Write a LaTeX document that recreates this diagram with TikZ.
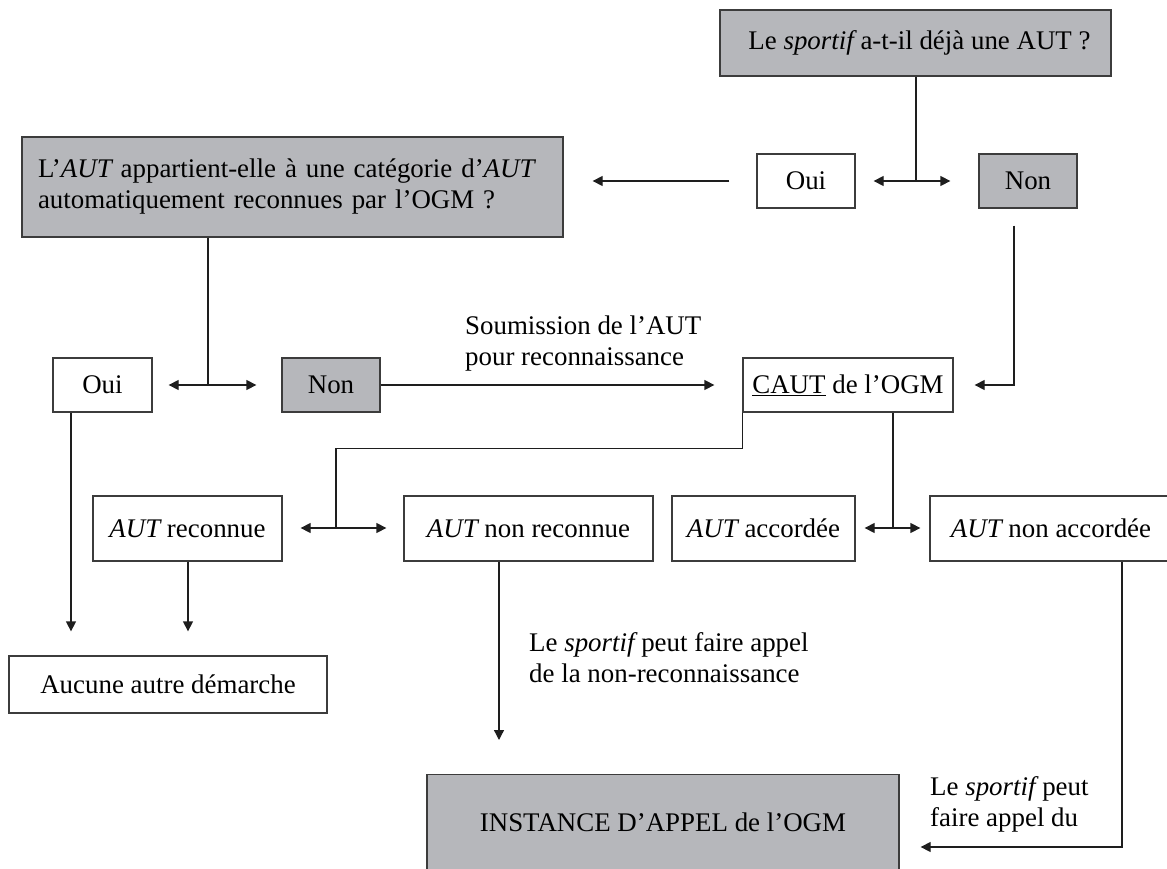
\documentclass[tikz,border=0pt]{standalone}
\usepackage{fontspec}
\setmainfont{Liberation Serif}
\usetikzlibrary{arrows.meta,calc}
\definecolor{boxgray}{RGB}{182,183,187}
\definecolor{edgec}{RGB}{60,60,60}
\definecolor{linec}{RGB}{30,30,30}
\tikzset{
  basebox/.style={draw=edgec, line width=1.3pt, inner sep=0pt, align=center,
    font=\fontsize{26.9}{31}\selectfont},
  graybox/.style={basebox, fill=boxgray},
  whitebox/.style={basebox, fill=white},
  conn/.style={draw=linec, line width=1.3pt},
  arr/.style={conn, -{Triangle[length=10pt,width=10pt]}},
  lbl/.style={inner sep=0pt, align=left, anchor=west, font=\fontsize{26.9}{31}\selectfont},
}
\begin{document}
\begin{tikzpicture}[x=1pt,y=-1pt]
\useasboundingbox (0,0) rectangle (1167,869);

% nodes
\node[graybox, minimum width=391pt, minimum height=66pt] (T) at (915.5,43) {\hspace*{8pt}Le {\itshape sportif} a-t-il déjà une AUT ?};
\node[whitebox, minimum width=98pt, minimum height=54pt] (O1) at (806,181) {Oui};
\node[graybox, minimum width=98pt, minimum height=54pt] (N1) at (1028,181) {Non};
\node[graybox, minimum height=100pt, text width=509pt, inner xsep=16pt, align=left] (L) at (292.5,187)
  {L’{\itshape AUT} appartient-elle à une catégorie d’{\itshape AUT}\\automatiquement reconnues par l’OGM ?};
\node[whitebox, minimum width=99pt, minimum height=54pt] (O2) at (102.5,385) {Oui};
\node[graybox, minimum width=98pt, minimum height=54pt] (N2) at (331,385) {Non};
\node[whitebox, minimum width=210pt, minimum height=54pt] (C) at (848,385) {\underline{CAUT} de l’OGM};
\node[whitebox, minimum width=189pt, minimum height=65pt] (R) at (187.5,528.5) {{\itshape AUT} reconnue};
\node[whitebox, minimum width=249pt, minimum height=65pt] (NR) at (528.5,528.5) {{\itshape AUT} non reconnue};
\node[whitebox, minimum width=183pt, minimum height=65pt] (A) at (763.5,528.5) {{\itshape AUT} accordée};
\node[whitebox, minimum width=242pt, minimum height=65pt] (NA) at (1051,528.5) {{\itshape AUT} non accordée};
\node[whitebox, minimum width=318pt, minimum height=57pt] (Au) at (168,684.5) {Aucune autre démarche};
\node[graybox, anchor=north, minimum width=472pt, inner ysep=0pt, text height=57pt, text depth=79pt] (I) at (663,774)
  {INSTANCE D’APPEL de l’OGM};

% labels
\node[lbl] (s1) at (465,344) {Soumission de l’AUT\\pour reconnaissance};
\node[lbl] (s2) at (529,658) {Le {\itshape sportif} peut faire appel\\de la non-reconnaissance};
\node[lbl] (s3) at (930,804) {Le {\itshape sportif} peut\\faire appel du};

% coordinates
\coordinate (tb) at (916,181);
\coordinate (lb) at (208,385);
\coordinate (cb1) at (336,528);
\coordinate (cb2) at (893,528);

% top branch
\draw[conn] (T.south -| tb) -- (tb);
\draw[arr, shorten >=18pt] (tb) -- (O1.east);
\draw[arr, shorten >=28pt] (tb) -- (N1.west);
\draw[arr, shorten <=27pt, shorten >=29pt] (O1.west) -- (L.east |- O1.west);
\draw[arr, shorten >=21pt] ($(N1.south)+(-14,17)$) |- (C.east);

% left branch
\draw[conn] (L.south -| lb) -- (lb);
\draw[arr, shorten >=16pt] (lb) -- (O2.east);
\draw[arr, shorten >=25pt] (lb) -- (N2.west);
\draw[arr, shorten >=28pt] (N2.east) -- (C.west);

% CAUT branches
\draw[conn] (C.south west) -- ++(0,36) -| (cb1);
\draw[arr, shorten >=18pt] (cb1) -- (R.east |- cb1);
\draw[arr, shorten >=17pt] (cb1) -- (NR.west |- cb1);
\draw[conn] (C.south -| cb2) -- (cb2);
\draw[arr, shorten >=9pt] (cb2) -- (A.east |- cb2);
\draw[arr, shorten >=9pt] (cb2) -- (NA.west |- cb2);

% downward
\draw[arr, shorten >=24pt] (O2.south -| 71,0) -- (Au.north -| 71,0);
\draw[arr, shorten >=24pt] (R.south -| 188,0) -- (Au.north -| 188,0);
\draw[arr, shorten >=34pt] (NR.south -| 499,0) -- (I.north -| 499,0);
\draw[arr, shorten >=21pt] (NA.south -| 1122,0) |- (I.east |- 0,847);
\end{tikzpicture}
\end{document}
